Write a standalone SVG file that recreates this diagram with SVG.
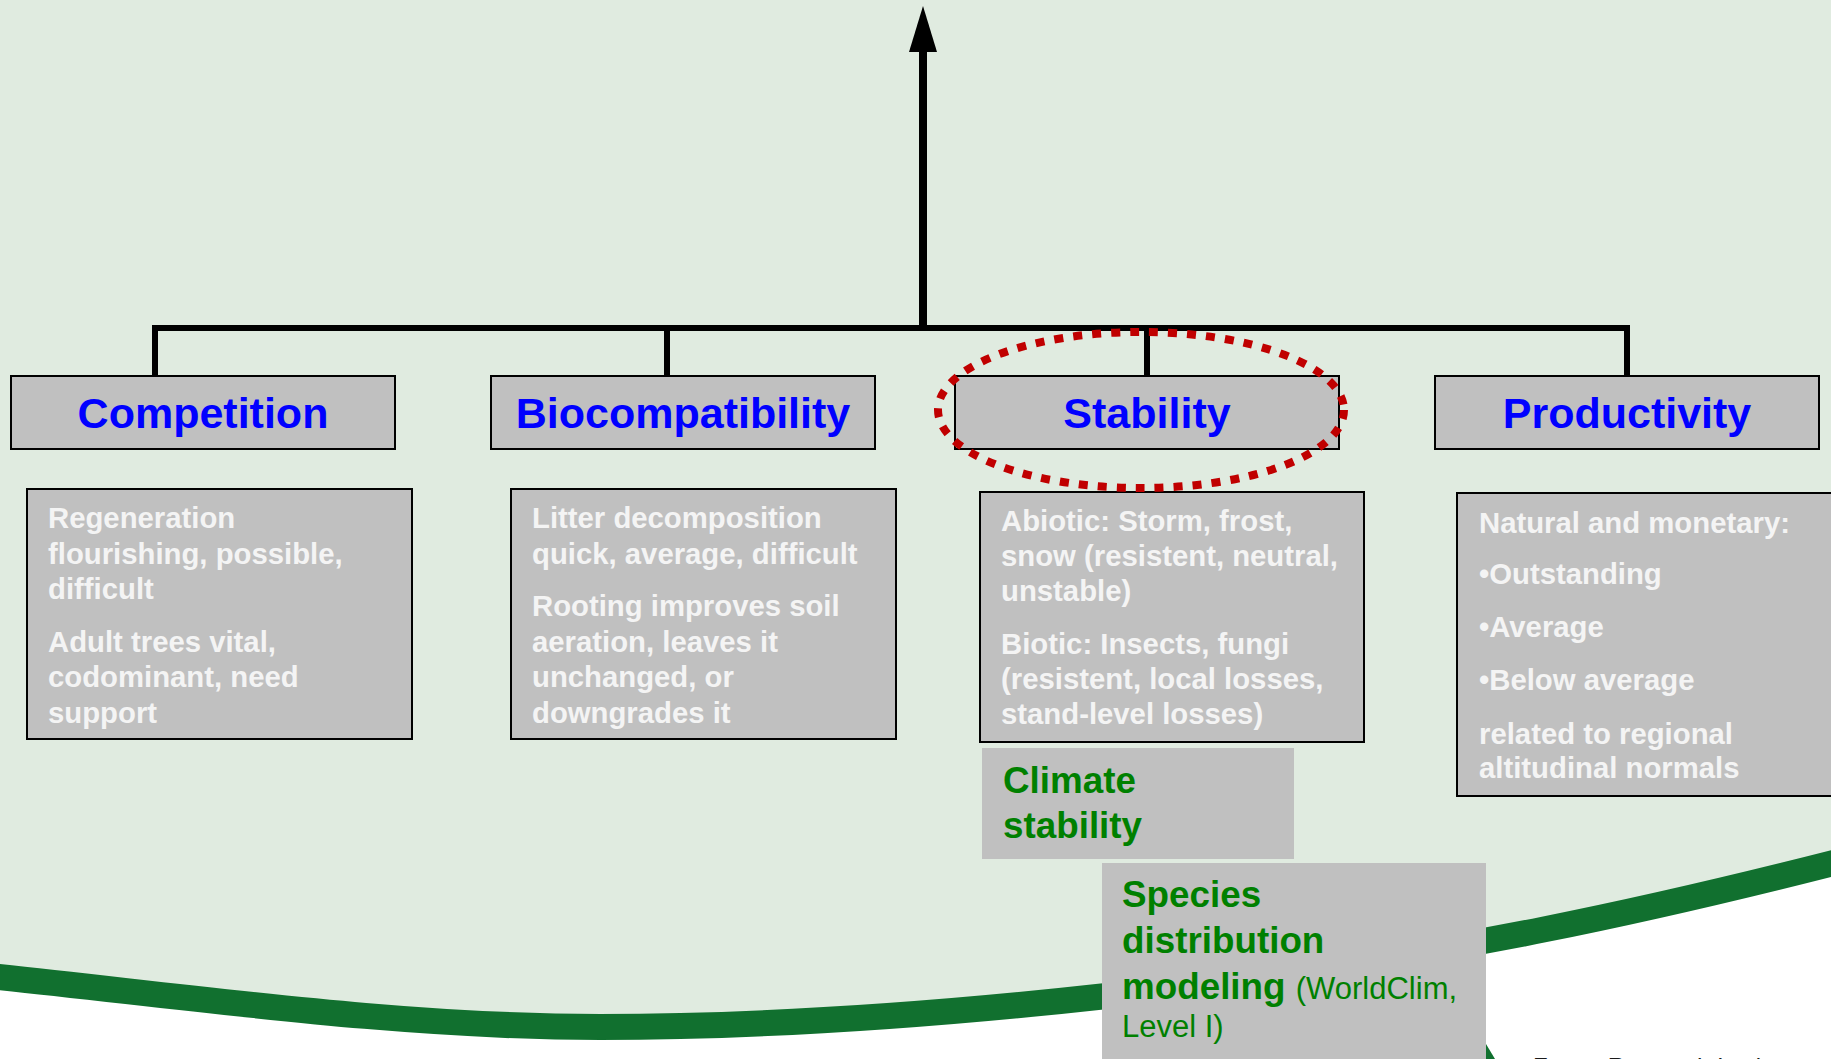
<svg xmlns="http://www.w3.org/2000/svg" width="1831" height="1059" viewBox="0 0 1831 1059">
<defs>
<style>
.hdr{fill:#c0c0c0;stroke:#000;stroke-width:2}
.desc{fill:#c0c0c0;stroke:#000;stroke-width:2}
.plain{fill:#c0c0c0}
.ht{font-family:"Liberation Sans",Arial,sans-serif;font-weight:bold;font-size:43px;fill:#0000ff;text-anchor:middle}
.dt{font-family:"Liberation Sans",Arial,sans-serif;font-weight:bold;font-size:29.3px;fill:#f4f4f4}
.gt{font-family:"Liberation Sans",Arial,sans-serif;font-weight:bold;font-size:36.8px;fill:#008000}
.gr{font-family:"Liberation Sans",Arial,sans-serif;font-weight:normal;font-size:31px;fill:#008000}
.conn{fill:none;stroke:#000;stroke-width:6}
</style>
<marker id="ah" markerUnits="userSpaceOnUse" viewBox="0 0 46 28" refX="0" refY="14" markerWidth="46" markerHeight="28" orient="auto">
<path d="M0,0 L46,14 L0,28 Z" fill="#000"/>
</marker>
</defs>
<rect x="0" y="0" width="1831" height="1059" fill="#ffffff"/>
<path d="M0,0 H1831 V864 C1650,910 1450,954 1200,985 C1000,1010 800,1027 600,1027 C400,1027 200,998 0,977 Z" fill="#e0ebe0"/>
<path d="M-10,976 C200,998 400,1027 600,1027 C800,1027 1000,1010 1200,985 C1450,954 1650,910 1845,860" fill="none" stroke="#11702f" stroke-width="26"/>
<polygon points="1486,1044 1495,1059 1486,1059" fill="#11702f"/>
<text x="1533" y="1075" font-family="'Liberation Sans',Arial,sans-serif" font-size="24" fill="#1a1a1a">Forest Research Institute</text>

<g id="connectors">
<path class="conn" d="M155,376 V328 H1627 V376"/>
<path class="conn" d="M667,328 V376"/>
<path class="conn" d="M1147,328 V376"/>
<path d="M923,331 V52" fill="none" stroke="#000" stroke-width="8" marker-end="url(#ah)"/>
</g>

<g id="competition">
<rect class="hdr" x="11" y="376" width="384" height="73"/>
<text class="ht" x="203" y="428">Competition</text>
</g>
<g id="competition-desc">
<rect class="desc" x="27" y="489" width="385" height="250"/>
<text class="dt" x="48" y="528">Regeneration</text>
<text class="dt" x="48" y="564">flourishing, possible,</text>
<text class="dt" x="48" y="599">difficult</text>
<text class="dt" x="48" y="652">Adult trees vital,</text>
<text class="dt" x="48" y="687">codominant, need</text>
<text class="dt" x="48" y="723">support</text>
</g>

<g id="biocompatibility">
<rect class="hdr" x="491" y="376" width="384" height="73"/>
<text class="ht" x="683" y="428">Biocompatibility</text>
</g>
<g id="biocompatibility-desc">
<rect class="desc" x="511" y="489" width="385" height="250"/>
<text class="dt" x="532" y="528">Litter decomposition</text>
<text class="dt" x="532" y="564">quick, average, difficult</text>
<text class="dt" x="532" y="616">Rooting improves soil</text>
<text class="dt" x="532" y="652">aeration, leaves it</text>
<text class="dt" x="532" y="687">unchanged, or</text>
<text class="dt" x="532" y="723">downgrades it</text>
</g>

<g id="stability">
<rect class="hdr" x="955" y="376" width="384" height="73"/>
<text class="ht" x="1147" y="428">Stability</text>
</g>
<g id="stability-desc">
<rect class="desc" x="980" y="492" width="384" height="250"/>
<text class="dt" x="1001" y="531">Abiotic: Storm, frost,</text>
<text class="dt" x="1001" y="566">snow (resistent, neutral,</text>
<text class="dt" x="1001" y="601">unstable)</text>
<text class="dt" x="1001" y="654">Biotic: Insects, fungi</text>
<text class="dt" x="1001" y="689">(resistent, local losses,</text>
<text class="dt" x="1001" y="724">stand-level losses)</text>
</g>

<g id="productivity">
<rect class="hdr" x="1435" y="376" width="384" height="73"/>
<text class="ht" x="1627" y="428">Productivity</text>
</g>
<g id="productivity-desc">
<rect class="desc" x="1457" y="493" width="400" height="303"/>
<text class="dt" x="1479" y="533">Natural and monetary:</text>
<text class="dt" x="1479" y="584">•Outstanding</text>
<text class="dt" x="1479" y="637">•Average</text>
<text class="dt" x="1479" y="690">•Below average</text>
<text class="dt" x="1479" y="744">related to regional</text>
<text class="dt" x="1479" y="778">altitudinal normals</text>
</g>

<g id="stability-highlight">
<ellipse cx="1141" cy="410" rx="203" ry="78" fill="none" stroke="#c00000" stroke-width="8" stroke-dasharray="9 10"/>
</g>

<g id="climate-stability">
<rect class="plain" x="982" y="748" width="312" height="111"/>
<text class="gt" x="1003" y="793">Climate</text>
<text class="gt" x="1003" y="838">stability</text>
</g>

<g id="species-distribution">
<rect class="plain" x="1102" y="863" width="384" height="210"/>
<text class="gt" x="1122" y="907">Species</text>
<text class="gt" x="1122" y="953">distribution</text>
<text class="gt" x="1122" y="999">modeling <tspan class="gr">(WorldClim,</tspan></text>
<text class="gr" x="1122" y="1037">Level I)</text>
</g>
</svg>
